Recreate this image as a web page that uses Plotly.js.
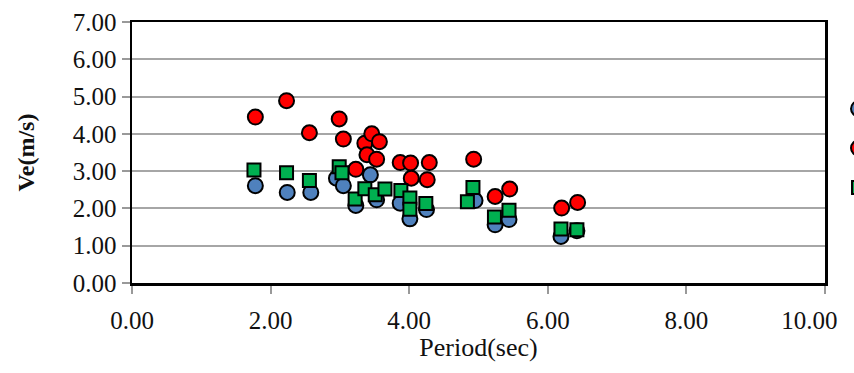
<!DOCTYPE html>
<html>
<head>
<meta charset="utf-8">
<script src="https://cdn.plot.ly/plotly-3.0.1.min.js"></script>
<style>html,body{margin:0;padding:0;background:#fff;overflow:hidden}#chart{width:854px;height:373px}</style>
</head>
<body>
<div id="chart"></div>
<script>
// Series names (legend text is cut off in the reference)
const seriesNames = ["Series 1", "Series 2", "Series 3"];

// Blue circles
const blueX = [1.78, 2.24, 2.58, 2.95, 3.05, 3.23, 3.44, 3.53, 3.87, 4.01, 4.25, 4.95, 5.24, 5.44, 6.19, 6.42];
const blueY = [2.61, 2.43, 2.43, 2.81, 2.61, 2.08, 2.90, 2.23, 2.14, 1.72, 1.97, 2.21, 1.56, 1.70, 1.25, 1.40];

// Red circles
const redX = [1.78, 2.23, 2.56, 2.99, 3.05, 3.23, 3.36, 3.39, 3.46, 3.53, 3.57, 3.87, 4.02, 4.03, 4.26, 4.29, 4.93, 5.24, 5.45, 6.20, 6.43];
const redY = [4.45, 4.89, 4.03, 4.40, 3.86, 3.05, 3.75, 3.44, 4.00, 3.32, 3.79, 3.23, 3.22, 2.81, 2.77, 3.23, 3.32, 2.32, 2.52, 2.01, 2.16];

// Green squares
const greenX = [1.76, 2.23, 2.56, 2.99, 3.03, 3.22, 3.36, 3.51, 3.65, 3.88, 4.01, 4.01, 4.24, 4.84, 4.92, 5.23, 5.44, 6.19, 6.42];
const greenY = [3.03, 2.96, 2.75, 3.12, 2.96, 2.25, 2.53, 2.37, 2.52, 2.48, 2.28, 1.98, 2.13, 2.18, 2.56, 1.77, 1.95, 1.45, 1.43];

const xTicks = [0, 2, 4, 6, 8, 10];
const xTickText = ["0.00", "2.00", "4.00", "6.00", "8.00", "10.00"];
const yTicks = [0, 1, 2, 3, 4, 5, 6, 7];
const yTickText = ["0.00", "1.00", "2.00", "3.00", "4.00", "5.00", "6.00", "7.00"];

const fam = "Liberation Serif, Times New Roman, serif";
const tickFont = {family: fam, size: 25, color: "#111"};

// the last x label sits inside the chart edge, as in the reference
const NB = "\u00a0";
const xTickShown = xTickText.map((t, i) => i === xTickText.length - 1 ? t + NB.repeat(5) : t);

const traces = [
  {x: blueX, y: blueY, name: seriesNames[0], type: "scatter", mode: "markers",
   marker: {symbol: "circle", size: 15, color: "#4F81BD", line: {color: "#000", width: 2}}},
  {x: redX, y: redY, name: seriesNames[1], type: "scatter", mode: "markers",
   marker: {symbol: "circle", size: 15, color: "#FF0000", line: {color: "#000", width: 2}}},
  {x: greenX, y: greenY, name: seriesNames[2], type: "scatter", mode: "markers",
   marker: {symbol: "square", size: 13, color: "#00B050", line: {color: "#000", width: 2}}}
];

const layout = {
  width: 854, height: 373,
  margin: {l: 132, r: 29, t: 22, b: 89.5, pad: 0, autoexpand: false},
  paper_bgcolor: "#fff", plot_bgcolor: "#fff",
  font: tickFont,
  showlegend: true,
  legend: {x: 1.0195, xanchor: "left", y: 0.7625, yanchor: "top", bgcolor: "rgba(0,0,0,0)",
           font: {family: fam, size: 28, color: "#000"}},
  xaxis: {
    range: [0, 10], tickvals: xTicks, ticktext: xTickShown,
    showgrid: false, zeroline: false,
    showline: true, linecolor: "#000", linewidth: 2.5, mirror: true,
    ticks: "outside", ticklen: 8, tickcolor: "#999", tickwidth: 2,
    tickfont: tickFont, ticklabelstandoff: 5, ticklabeloverflow: "allow",
    title: {text: "Period(sec)", font: {family: fam, size: 26, color: "#111"}, standoff: 6},
    fixedrange: true
  },
  yaxis: {
    range: [0, 7], tickvals: yTicks, ticktext: yTickText,
    showgrid: true, gridcolor: "#A6A6A6", gridwidth: 2, zeroline: false,
    showline: true, linecolor: "#000", linewidth: 2.5, mirror: true,
    ticks: "outside", ticklen: 8, tickcolor: "#999", tickwidth: 2,
    tickfont: tickFont,
    title: {text: "<b>Ve(m/s)</b>", font: {family: fam, size: 24, color: "#111"}, standoff: 32},
    fixedrange: true
  }
};

Plotly.newPlot("chart", traces, layout, {displayModeBar: false, staticPlot: true});
</script>
</body>
</html>
